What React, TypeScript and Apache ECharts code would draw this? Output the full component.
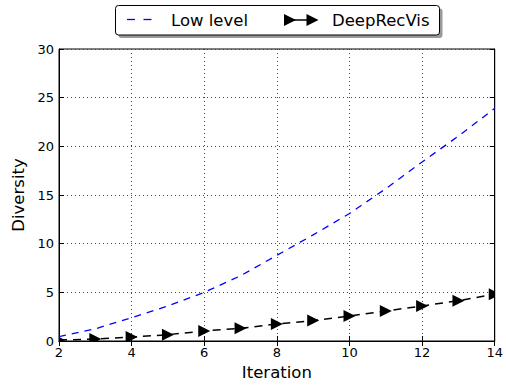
import React, { useEffect, useRef } from "react";
import * as echarts from "echarts";

const iterations = [2, 3, 4, 5, 6, 7, 8, 9, 10, 11, 12, 13, 14];
const lowLevel = [0.45, 1.25, 2.4, 3.6, 5.0, 6.7, 8.8, 10.9, 13.1, 15.65, 18.4, 21.05, 23.9];
const deepRecVis = [0.1, 0.2, 0.4, 0.65, 1.03, 1.3, 1.75, 2.1, 2.57, 3.08, 3.6, 4.14, 4.8];
const seriesNames = ["Low level", "DeepRecVis"];
const xRange = { min: 2, max: 14, interval: 2 };
const yRange = { min: 0, max: 30, interval: 5 };

const FONT = "DejaVu Sans";

export default function App() {
  const ref = useRef<HTMLDivElement>(null);
  useEffect(() => {
    if (!ref.current) return;
    const chart = echarts.init(ref.current, undefined, { renderer: "svg" });
    const labelStyle = { fontSize: 13, fontFamily: FONT, color: "#000" };
    const tick = { show: true, inside: true, length: 5, lineStyle: { color: "#000", width: 1 } };
    const axisLine = { show: true, lineStyle: { color: "#000", width: 1 } };
    const split = { show: true, lineStyle: { color: "#444", width: 1, type: [1, 3] } };
    const deepData = iterations.map((x, i) => [x, deepRecVis[i]]);
    chart.setOption({
      animation: false,
      backgroundColor: "#fff",
      grid: { left: 59, right: 11, top: 49, bottom: 45, show: true, borderColor: "#000", borderWidth: 1, backgroundColor: "transparent" },
      xAxis: [
        {
          type: "value", ...xRange, position: "bottom",
          axisLine, axisTick: tick, splitLine: split,
          axisLabel: { ...labelStyle, margin: 5, showMinLabel: true, showMaxLabel: true },
          name: "Iteration", nameLocation: "middle", nameGap: 23,
          nameTextStyle: { fontSize: 16.5, fontFamily: FONT, color: "#000" },
        },
        {
          type: "value", ...xRange, position: "top",
          axisLine, axisTick: tick, splitLine: { show: false }, axisLabel: { show: false },
        },
      ],
      yAxis: [
        {
          type: "value", ...yRange, position: "left",
          axisLine, axisTick: tick, splitLine: split,
          axisLabel: { ...labelStyle, margin: 5, showMinLabel: true, showMaxLabel: true },
          name: "Diversity", nameLocation: "middle", nameGap: 28,
          nameTextStyle: { fontSize: 16.5, fontFamily: FONT, color: "#000" },
        },
        {
          type: "value", ...yRange, position: "right",
          axisLine, axisTick: tick, splitLine: { show: false }, axisLabel: { show: false },
        },
      ],
      series: [
        {
          name: seriesNames[0], type: "line", xAxisIndex: 0, yAxisIndex: 0,
          data: iterations.map((x, i) => [x, lowLevel[i]]),
          symbol: "none", showSymbol: false,
          itemStyle: { color: "#0000ff" },
          lineStyle: { color: "#0000ff", width: 1.3, type: [7, 6] },
          clip: true, z: 3,
        },
        {
          name: seriesNames[1], type: "line", xAxisIndex: 0, yAxisIndex: 0,
          data: deepData,
          symbol: "none", showSymbol: false,
          itemStyle: { color: "#000" },
          lineStyle: { color: "#000", width: 1.5, type: [8, 6] },
          clip: true, z: 4,
        },
        {
          name: seriesNames[1] + " markers", type: "custom", xAxisIndex: 0, yAxisIndex: 0,
          data: deepData,
          clip: true, z: 5,
          renderItem: (_params: any, api: any) => {
            const p = api.coord([api.value(0), api.value(1)]);
            const h = 6;
            return {
              type: "polygon",
              shape: { points: [[p[0] - h, p[1] - h], [p[0] + h, p[1]], [p[0] - h, p[1] + h]] },
              style: { fill: "#000" },
            };
          },
        },
      ],
      graphic: [
        { type: "rect", shape: { x: 118.5, y: 8.5, width: 324, height: 29.5, r: 3 }, style: { fill: "#999" }, z: 10 },
        { type: "rect", shape: { x: 115.5, y: 5.5, width: 324, height: 29.5, r: 3 }, style: { fill: "#fff", stroke: "#000", lineWidth: 1 }, z: 11 },
        { type: "line", shape: { x1: 127, y1: 19.5, x2: 135, y2: 19.5 }, style: { stroke: "#0000ff", lineWidth: 1.3 }, z: 12 },
        { type: "line", shape: { x1: 143.5, y1: 19.5, x2: 151.5, y2: 19.5 }, style: { stroke: "#0000ff", lineWidth: 1.3 }, z: 12 },
        { type: "text", x: 171, y: 20, style: { text: seriesNames[0], fontSize: 16.5, fontFamily: FONT, fill: "#000", verticalAlign: "middle", align: "left" }, z: 12 },
        { type: "line", shape: { x1: 290, y1: 20, x2: 312.5, y2: 20 }, style: { stroke: "#000", lineWidth: 1.5 }, z: 12 },
        { type: "polygon", shape: { points: [[284, 14], [296, 20], [284, 26]] }, style: { fill: "#000" }, z: 13 },
        { type: "polygon", shape: { points: [[306.5, 14], [318.5, 20], [306.5, 26]] }, style: { fill: "#000" }, z: 13 },
        { type: "text", x: 332, y: 20, style: { text: seriesNames[1], fontSize: 16.5, fontFamily: FONT, fill: "#000", verticalAlign: "middle", align: "left" }, z: 12 },
      ],
    });
    return () => chart.dispose();
  }, []);
  return <div ref={ref} style={{ position: "fixed", left: 0, top: 0, width: 506, height: 386 }} />;
}
